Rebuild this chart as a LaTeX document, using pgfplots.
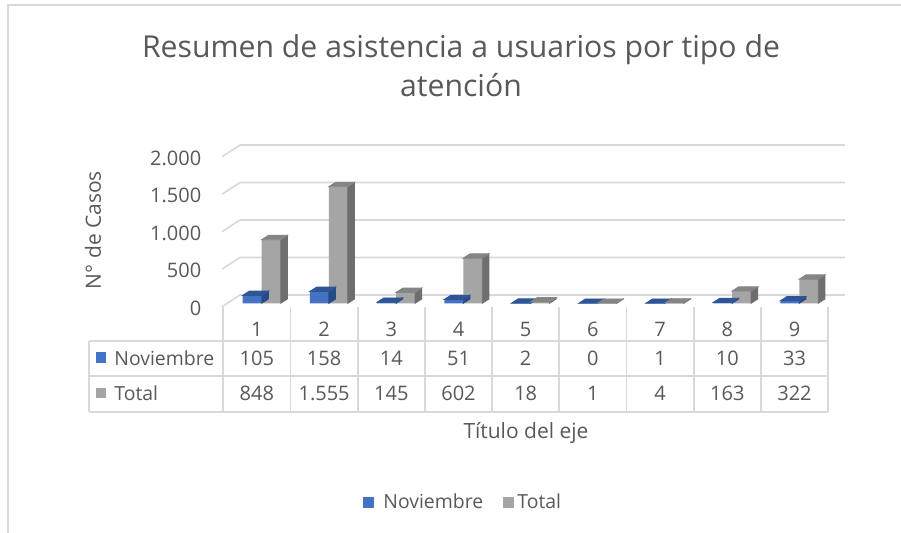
\documentclass[border=0pt]{standalone}
\usepackage{fontspec}
\setmainfont{Open Sans}
\usepackage{pgfplots}
\usepackage{pgfplotstable}
\pgfplotsset{compat=1.18}

\definecolor{txt}{HTML}{595959}
\definecolor{gridc}{HTML}{D9D9D9}
\definecolor{novfront}{HTML}{4472C4}
\definecolor{novtop}{HTML}{2F5597}
\definecolor{novside}{HTML}{264A85}
\definecolor{totfront}{HTML}{A5A5A5}
\definecolor{tottop}{HTML}{858585}
\definecolor{totside}{HTML}{6E6E6E}

\pgfplotstableread{
cat nov total
1 105 848
2 158 1555
3 14 145
4 51 602
5 2 18
6 0 1
7 1 4
8 10 163
9 33 322
}\casos

\pgfdeclareplotmark{none3d}{}

% depth of the fake 3-D column (front face -> back face) and one case in pt
\def\dx{3.35pt}
\def\dy{2.15pt}
\def\yu{0.0375pt}

% top and side faces of a column, drawn at each data point
% #1 bar shift, #2 top colour, #3 side colour
\pgfplotsset{
  caras/.style n args={3}{
    scatter, only marks, mark=none3d,
    visualization depends on={rawy\as\v},
    scatter/@pre marker code/.code={
      \fill[#3] (#1+4.75pt,0pt) -- (#1+4.75pt,-\v*\yu)
        -- (#1+4.75pt+\dx,-\v*\yu+\dy) -- (#1+4.75pt+\dx,\dy) -- cycle;
      \fill[#2] (#1-4.75pt,0pt) -- (#1+4.75pt,0pt)
        -- (#1+4.75pt+\dx,\dy) -- (#1-4.75pt+\dx,\dy) -- cycle;
    },
    scatter/@post marker code/.code={},
  },
}

\newcommand{\fs}[1]{\fontsize{#1}{#1}\selectfont}
\newcommand{\num}[1]{\pgfmathprintnumber[1000 sep={.}, assume math mode=true]{#1}}

\begin{document}
\begin{tikzpicture}
% everything that is not data is laid out in pixels of the original (x right, y down)
\begin{scope}[x=0.5pt, y=-0.5pt]
  \useasboundingbox (0,0) rectangle (901,533);
  \fill[white] (0,0) rectangle (901,533);
  \draw[gridc, line width=1pt] (8,533) -- (8,5) -- (901,5);

  % title
  \node[anchor=base, text=txt, font=\fs{15.1}, inner sep=0pt] at (461,58)
       {Resumen de asistencia a usuarios por tipo de};
  \node[anchor=base, text=txt, font=\fs{15.1}, inner sep=0pt] at (461,97)
       {atención};

  % y title
  \node[rotate=90, text=txt, font=\fs{10.5}, inner sep=0pt] at (93,230)
       {N° de Casos};

  % data table under the plot
  \foreach \k in {0,...,9}
    \draw[gridc, line width=0.9pt] (223.3+\k*67.2,306.7) -- (223.3+\k*67.2,411.7);
  \draw[gridc, line width=0.9pt] (89.3,340.7) -- (89.3,411.7);
  \foreach \yy in {340.7,376,411.7}
    \draw[gridc, line width=0.9pt] (89.3,\yy) -- (828.3,\yy);

  \foreach \k in {0,...,8}{
    \pgfplotstablegetelem{\k}{cat}\of\casos
    \node[text=txt, font=\fs{10}, inner sep=0pt] at (223.3+\k*67.2+33.6,329)
         {\pgfplotsretval};
    \pgfplotstablegetelem{\k}{nov}\of\casos
    \node[text=txt, font=\fs{10}, inner sep=0pt] at (223.3+\k*67.2+33.6,358.3)
         {\num{\pgfplotsretval}};
    \pgfplotstablegetelem{\k}{total}\of\casos
    \node[text=txt, font=\fs{10}, inner sep=0pt] at (223.3+\k*67.2+33.6,393.5)
         {\num{\pgfplotsretval}};
  }
  \fill[novfront] (96,352.5) rectangle (105.5,363);
  \node[anchor=west, text=txt, font=\fs{9.7}, inner sep=0pt] at (114,358.3) {Noviembre};
  \fill[totfront] (96,388) rectangle (105.5,398.5);
  \node[anchor=west, text=txt, font=\fs{9.7}, inner sep=0pt] at (114,393.5) {Total};

  \node[anchor=base, text=txt, font=\fs{10.5}, inner sep=0pt] at (526,439)
       {Título del eje};

  % legend
  \fill[novfront] (363,497.5) rectangle (374,508);
  \node[anchor=base west, text=txt, font=\fs{9.7}, inner sep=0pt] at (383,508.3) {Noviembre};
  \fill[totfront] (502.5,497.5) rectangle (513.5,508);
  \node[anchor=base west, text=txt, font=\fs{9.7}, inner sep=0pt] at (517,508.3) {Total};
\end{scope}

\begin{axis}[
  at={(101.55pt,-151.65pt)}, anchor=south west,
  x=33.6pt, y=0.0375pt,
  xmin=0.2, xmax=9.75, ymin=0, ymax=2000,
  clip=false,
  axis line style={draw=none}, tick style={draw=none},
  xtick=\empty, ytick={0,500,...,2000},
  yticklabel style={text=txt, font=\fs{10}, anchor=east, inner sep=0pt,
                    xshift=-0.7pt, yshift=-2.4pt},
  /pgf/number format/.cd, 1000 sep={.}, assume math mode=true,
]
  % back wall and side wall grid, one line per tick
  \pgfplotsinvokeforeach{0,500,1000,1500,2000}{
    \draw[gridc, line width=0.8pt] ([yshift=-1.7pt]axis cs:0.481,#1)
      -- ([yshift=4.15pt]axis cs:0.749,#1) -- ([yshift=4.15pt]axis cs:9.75,#1);
  }

  \addplot[ybar, bar width=9.5pt, bar shift=-2.35pt, fill=novfront, draw=none]
    table[x=cat, y=nov] {\casos};
  \addplot[caras={-2.35pt}{novtop}{novside}] table[x=cat, y=nov] {\casos};

  \addplot[ybar, bar width=9.5pt, bar shift=7.15pt, fill=totfront, draw=none]
    table[x=cat, y=total] {\casos};
  \addplot[caras={7.15pt}{tottop}{totside}] table[x=cat, y=total] {\casos};
\end{axis}
\end{tikzpicture}
\end{document}
